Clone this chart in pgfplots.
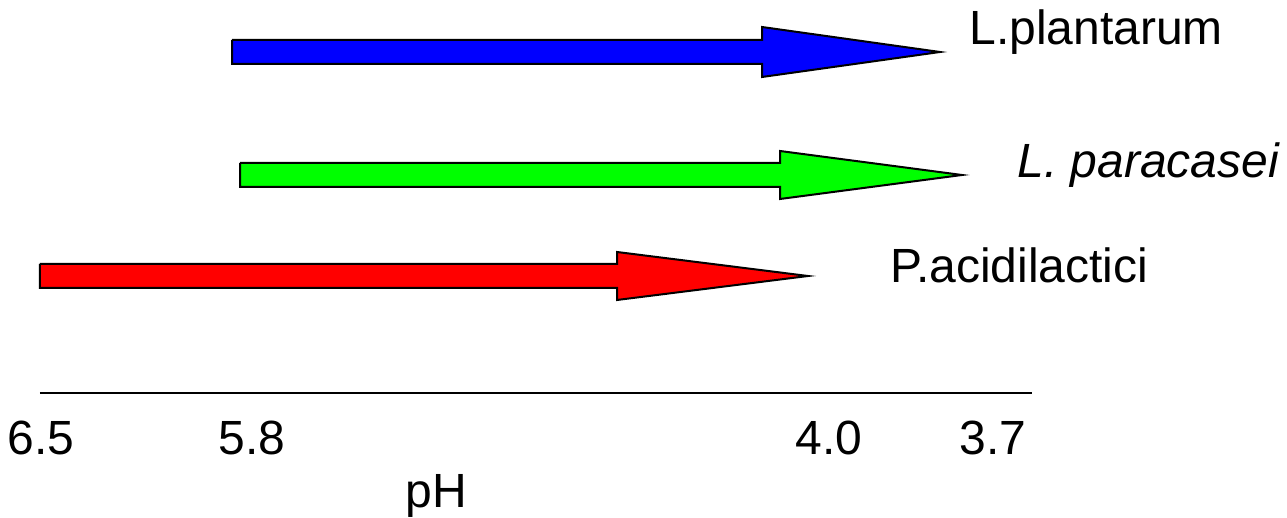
\documentclass[border=0pt]{standalone}
\usepackage{fontspec}
\setmainfont{Liberation Sans}
\usepackage{pgfplots}
\pgfplotsset{compat=1.18}

\begin{document}
\begin{tikzpicture}
\begin{axis}[
    x=0.5pt, y=0.5pt,
    xmin=40, xmax=1032,
    ymin=124, ymax=517,
    clip=false,
    axis x line=bottom,
    axis y line=none,
    axis line style={-, line width=1.1pt},
    xtick={41,252,829,993},
    xticklabels={6.5,5.8,4.0,3.7},
    major tick length=0pt,
    ytick=\empty,
    /pgf/number format/assume math mode=true,
    xticklabel style={font=\fontsize{24}{28}\selectfont, inner sep=0pt, yshift=-14pt},
    every axis plot/.style={draw=black, line width=1pt},
]
  % pixel coords, y measured from the bottom of the picture
  \addplot[fill=blue] coordinates {
    (232,477) (762,477) (762,490) (940,465) (762,440) (762,453) (232,453) (232,477)};
  \addplot[fill=green] coordinates {
    (240,354) (780,354) (780,366) (962,342) (780,318) (780,330) (240,330) (240,354)};
  \addplot[fill=red] coordinates {
    (40,253) (617,253) (617,265) (808,241) (617,217) (617,229) (40,229) (40,253)};

  \node[anchor=base west, inner sep=0pt, font=\fontsize{24}{28}\selectfont] at (axis cs:969,472) {L.plantarum};
  \node[anchor=base west, inner sep=0pt, font=\fontsize{24}{28}\itshape] at (axis cs:1017,339) {L. paracasei};
  \node[anchor=base west, inner sep=0pt, font=\fontsize{24}{28}\selectfont] at (axis cs:890,234) {P.acidilactici};
  \node[anchor=base, inner sep=0pt, font=\fontsize{24}{28}\selectfont] at (axis cs:436,9) {pH};

  \path (axis cs:0,0) rectangle (axis cs:1287,517);
\end{axis}
\end{tikzpicture}
\end{document}
